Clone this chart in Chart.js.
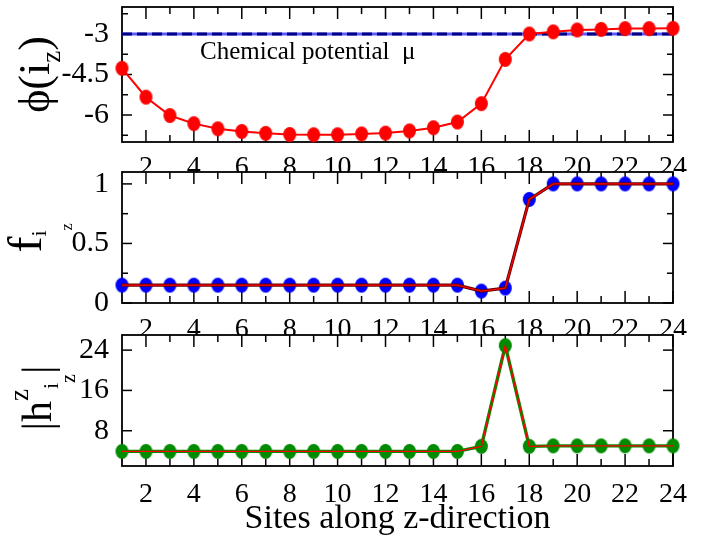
<!DOCTYPE html>
<html><head><meta charset="utf-8">
<script src="https://cdn.jsdelivr.net/npm/chart.js@4"></script>
<style>
html,body{margin:0;padding:0;background:#fff;overflow:hidden;width:704px;height:535px;}
canvas{position:absolute;left:0;}
</style></head><body>
<canvas id="c1" width="704" height="185" style="top:-13px"></canvas>
<canvas id="c2" width="704" height="185" style="top:150px"></canvas>
<canvas id="c3" width="704" height="224" style="top:315px"></canvas>
<script>
// ---------- data ----------
const sites = [1,2,3,4,5,6,7,8,9,10,11,12,13,14,15,16,17,18,19,20,21,22,23,24];
const phi = [-4.27,-5.34,-6.02,-6.32,-6.51,-6.61,-6.68,-6.72,-6.73,-6.73,-6.70,-6.67,-6.59,-6.47,-6.26,-5.58,-3.94,-3.00,-2.92,-2.85,-2.83,-2.80,-2.80,-2.79];
const fOcc = [0.15,0.15,0.15,0.15,0.15,0.15,0.15,0.15,0.15,0.15,0.15,0.15,0.15,0.15,0.15,0.10,0.125,0.87,1,1,1,1,1,1];
const hAbs = [3.9,3.9,3.9,3.9,3.9,3.9,3.9,3.9,3.9,3.9,3.9,3.9,3.9,3.9,3.9,4.9,24.9,4.9,5.0,5.0,5.0,5.0,5.0,5.0];
const muValue = -3;
const muLabel = 'Chemical potential';
const xTicks = [2,4,6,8,10,12,14,16,18,20,22,24];
const xMinor = [3,5,7,9,11,13,15,17,19,21,23];
const phiTicks = [-6,-4.5,-3];
const phiMinor = [-6.75,-5.25,-3.75,-2.25];
const fTicks = [0,0.5,1];
const fMinor = [0.25,0.75];
const hTicks = [8,16,24];
const hMinor = [];
const xTitle = 'Sites along z-direction';

// ---------- helpers ----------
const SERIF = "'Liberation Serif','Times New Roman',serif";
function dot(color){
  const w=13,h=15;
  const c=document.createElement('canvas'); c.width=w+2; c.height=h+2;
  const g=c.getContext('2d'); g.fillStyle=color; g.beginPath();
  g.ellipse((w+2)/2,(h+2)/2,w/2,h/2,0,0,Math.PI*2); g.fill();
  return c;
}
const pts = arr => sites.map((s,i)=>({x:s,y:arr[i]}));

function richRot(ctx, bx, cy, parts){
  ctx.save();
  ctx.translate(bx, cy);
  ctx.rotate(-Math.PI/2);
  let w=0;
  parts.forEach(p=>{ctx.font=p.size+'px '+SERIF; p.w=ctx.measureText(p.t).width; w+=p.w+(p.adv||0);});
  let x=-w/2;
  ctx.fillStyle='#000'; ctx.textBaseline='alphabetic'; ctx.textAlign='left';
  parts.forEach(p=>{ctx.font=p.size+'px '+SERIF; ctx.fillText(p.t,x,p.dy||0); x+=p.w+(p.adv||0);});
  ctx.restore();
}

const framePlugin = {
  id:'frame',
  beforeDatasetsDraw(chart, args, o){
    const {ctx, chartArea:a, scales:{x,y}} = chart;
    ctx.save();
    ctx.strokeStyle='#000';
    const line=(x1,y1,x2,y2,lw)=>{ctx.lineWidth=lw;ctx.beginPath();ctx.moveTo(x1,y1);ctx.lineTo(x2,y2);ctx.stroke();};
    o.xMajor.forEach(v=>{const p=x.getPixelForValue(v); line(p,a.top,p,a.top+12,1.5); line(p,a.bottom,p,a.bottom-12,1.5);});
    o.xMinor.forEach(v=>{const p=x.getPixelForValue(v); line(p,a.top,p,a.top+7,1.5); line(p,a.bottom,p,a.bottom-7,1.5);});
    o.yMajor.forEach(v=>{const p=y.getPixelForValue(v); line(a.left,p,a.left+10,p,1.5); line(a.right,p,a.right-10,p,1.5);});
    o.yMinor.forEach(v=>{const p=y.getPixelForValue(v); line(a.left,p,a.left+6,p,1.5); line(a.right,p,a.right-6,p,1.5);});
    ctx.lineWidth=1.8;
    ctx.strokeRect(a.left,a.top,a.right-a.left,a.bottom-a.top);
    ctx.restore();
  },
  afterDraw(chart, args, o){
    if(o.draw) o.draw(chart.ctx, chart);
  }
};

function baseOptions(o){
  return {
    responsive:false, animation:false, devicePixelRatio:1,
    layout:{padding:{top:o.padTop,right:31,left:0,bottom:0}},
    plugins:{legend:{display:false}, tooltip:{enabled:false}, frame:o.frame},
    scales:{
      x:{type:'linear', min:1, max:24,
        afterBuildTicks:s=>{s.ticks=xTicks.map(v=>({value:v}));},
        afterFit:s=>{s.height=o.xh; s.paddingLeft=0; s.paddingRight=0;},
        grid:{display:false}, border:{display:false},
        ticks:{autoSkip:false, maxRotation:0, padding:o.xpad, color:'#000', font:{family:SERIF,size:28},
          callback:v=>String(v)},
        title:o.xtitle||{display:false}
      },
      y:{type:'linear', min:o.ymin, max:o.ymax,
        afterBuildTicks:s=>{s.ticks=o.yticks.map(v=>({value:v}));},
        afterFit:s=>{s.width=122; s.paddingTop=0; s.paddingBottom=0;},
        grid:{display:false}, border:{display:false},
        ticks:{autoSkip:false, padding:5, color:'#000', font:{family:SERIF,size:30},
          callback:v=>String(v)}
      }
    }
  };
}

Chart.register(framePlugin);

// ---------- panel 1 ----------
const top1 = -13;
new Chart(document.getElementById('c1'), {
  type:'line',
  data:{datasets:[
    {data:pts(phi), borderColor:'#ff0000', borderWidth:2, pointStyle:dot('#ff0000'), pointRadius:6, clip:false, tension:0},
    {data:[{x:1,y:muValue},{x:24,y:muValue}], borderColor:'#000080', borderWidth:3, borderDash:[10,5], pointRadius:0, clip:false},
    {data:[{x:1,y:muValue},{x:24,y:muValue}], borderColor:'#5a5aff', borderWidth:3, pointRadius:0, clip:false}
  ]},
  options: baseOptions({padTop:20, xh:30, xpad:1, ymin:-7, ymax:-2, yticks:phiTicks,
    frame:{xMajor:xTicks,xMinor:xMinor,yMajor:phiTicks,yMinor:phiMinor,
      draw:(ctx,chart)=>{
        ctx.save(); ctx.fillStyle='#000'; ctx.textBaseline='alphabetic';
        ctx.font='25px '+SERIF; ctx.fillText(muLabel,200,59.3-top1);
        ctx.fillText('\u03BC',402,59.3-top1);
        ctx.restore();
        richRot(ctx,49,74.5-top1,[{t:'\u03D5(i',size:44},{t:'z',size:27,dy:11},{t:')',size:44}]);
      }}})
});

// ---------- panel 2 ----------
const top2 = 150;
new Chart(document.getElementById('c2'), {
  type:'line',
  data:{datasets:[
    {data:pts(fOcc), borderColor:'#ff0000', borderWidth:1.4, pointRadius:0, clip:false},
    {data:pts(fOcc), borderColor:'#600000', borderWidth:3.2, pointRadius:0, clip:false},
    {data:pts(fOcc), showLine:false, pointStyle:dot('#0000ff'), pointRadius:6, clip:false}
  ]},
  options: baseOptions({padTop:22, xh:32, xpad:1.5, ymin:0, ymax:1.1, yticks:fTicks,
    frame:{xMajor:xTicks,xMinor:xMinor,yMajor:fTicks,yMinor:fMinor,
      draw:(ctx)=>{
        richRot(ctx,41,238-top2,[{t:'f',size:48},{t:'i',size:22,dy:5},{t:'z',size:16,dy:31}]);
      }}})
});

// ---------- panel 3 ----------
const top3 = 315;
new Chart(document.getElementById('c3'), {
  type:'line',
  data:{datasets:[
    {data:pts(hAbs), borderColor:'#ff0000', borderWidth:1.4, pointRadius:0, clip:false},
    {data:pts(hAbs), borderColor:'#008b00', borderWidth:3.4, pointRadius:0, clip:false},
    {data:pts(hAbs), showLine:false, pointStyle:dot('#008b00'), pointRadius:6, clip:false}
  ]},
  options: baseOptions({padTop:20, xh:73, xpad:4, ymin:1, ymax:27, yticks:hTicks,
    xtitle:{display:true, text:xTitle, color:'#000', font:{family:SERIF,size:34}, padding:{top:0,bottom:0}},
    frame:{xMajor:xTicks,xMinor:xMinor,yMajor:hTicks,yMinor:hMinor,
      draw:(ctx)=>{
        richRot(ctx,51,398-top3,[{t:'|h',size:42},{t:'z',size:27,dy:-23},{t:'i',size:22,dy:7},{t:'z',size:20,dy:24},{t:'|',size:42}]);
      }}})
});
</script>
</body></html>
